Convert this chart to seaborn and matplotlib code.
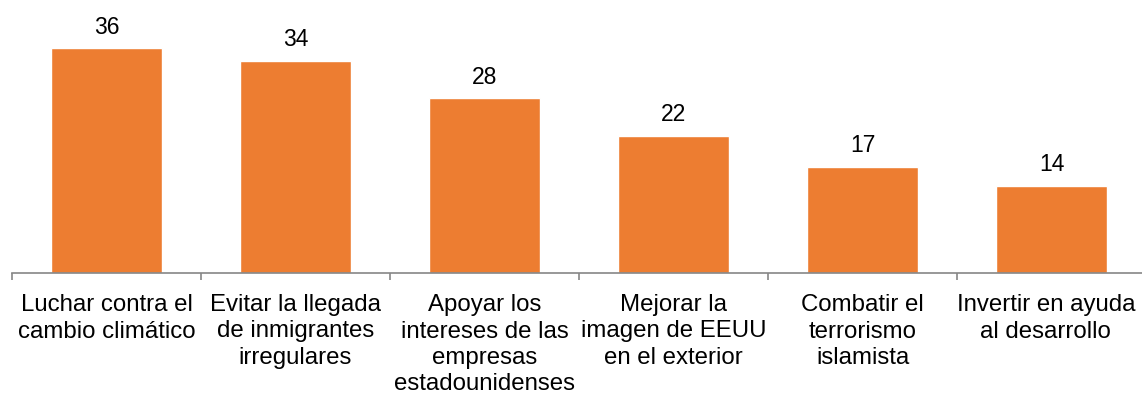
import matplotlib
matplotlib.use("Agg")
import matplotlib.pyplot as plt
import seaborn as sns
import pandas as pd

categories = [
    "Luchar contra el\ncambio climático",
    "Evitar la llegada\nde inmigrantes\nirregulares",
    "Apoyar los\nintereses de las\nempresas\nestadounidenses",
    "Mejorar la\nimagen de EEUU\nen el exterior",
    "Combatir el\nterrorismo\nislamista",
    "Invertir en ayuda\nal desarrollo",
]
values = [36, 34, 28, 22, 17, 14]

sns.set_style("white")
plt.rcParams["font.family"] = ["Liberation Sans", "DejaVu Sans"]

W, H = 1142, 396
fig = plt.figure(figsize=(W / 100, H / 100), dpi=100)
# axes: baseline at y=273px, categories 189px wide starting at x=12
ax = fig.add_axes([12 / W, (H - 273) / H, 6 * 189 / W, 273 / H])

df = pd.DataFrame({"cat": categories, "val": values})
sns.barplot(data=df, x="cat", y="val", color="#ED7D31", saturation=1,
            width=0.59, ax=ax)

ax.set_ylim(0, 273 / 6.25)
ax.set_xlim(-0.5, len(categories) - 0.5)
for p, v in zip(ax.patches, values):
    ax.text(p.get_x() + p.get_width() / 2, v + 1.5, str(v),
            ha="center", va="bottom", fontsize=16.5, color="black")

ax.set_xlabel("")
ax.set_ylabel("")
ax.set_yticks([])
for s in ["top", "right", "left"]:
    ax.spines[s].set_visible(False)
ax.spines["bottom"].set_color("#868686")
ax.spines["bottom"].set_linewidth(1.2)

# tick marks between categories
ax.set_xticks([i - 0.5 for i in range(len(categories) + 1)])
ax.set_xticklabels([])
ax.tick_params(axis="x", length=5, width=1.2, color="#868686",
               direction="out", bottom=True)
for i, c in enumerate(categories):
    x = i - 0.03 if i == len(categories) - 1 else i
    ax.text(x, -3.4, c, ha="center", va="top", fontsize=17.3, color="black",
            linespacing=1.25, clip_on=False)

fig.savefig("out.png", dpi=100)
